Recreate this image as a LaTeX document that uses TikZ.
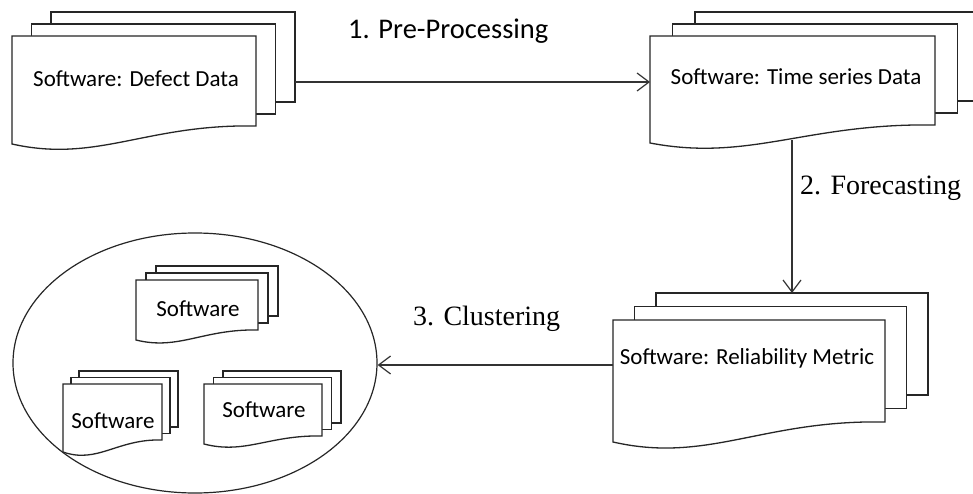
\documentclass[tikz,border=0pt]{standalone}
\usepackage{fontspec}
\setmainfont{Carlito}
\newfontfamily\serifface{Liberation Serif}
\usetikzlibrary{arrows.meta,shapes.geometric}
\tikzset{
  page/.style={draw=black!85, line width=1.3pt, fill=white, line join=miter},
  conn/.style={draw=black!80, line width=1.2pt, -{Straight Barb[length=12pt,width=18pt,line width=1.2pt]}},
  boxtext/.style={font=\fontsize{23}{27}\selectfont, inner sep=0pt, anchor=base},
  steplabel/.style={inner sep=0pt, anchor=base west},
}
% #1 L, #2 T, #3 R, #4 BR, #5 BL, #6 dx, #7 dy
\newcommand{\mdocshape}[7]{%
  \draw[page] ({#1+2*#6},{#2-2*#7}) rectangle ({#3+2*#6},{#4-2*#7});
  \draw[page] ({#1+#6},{#2-#7}) rectangle ({#3+#6},{#4-#7});
  \draw[page] (#1,#2) -- (#3,#2) -- (#3,#4)
     .. controls ({#1+0.55*(#3-#1)},{#4-0.02*(#5-#2)}) and ({#1+0.35*(#3-#1)},{#5+0.178*(#5-#2)}) .. (#1,#5) -- cycle;
}
\begin{document}
\begin{tikzpicture}[x=1pt,y=-1pt]
\useasboundingbox (0,0) rectangle (973,494);
\clip (0,0) rectangle (973,494);
\fill[white] (0,0) rectangle (973,494);

% documents
\mdocshape{12}{36}{256}{126}{144}{19.5}{12}
\node[boxtext] (defect) at (136,87) {Software: Defect Data};

\mdocshape{650}{36}{935}{125}{143}{22.5}{12}
\node[boxtext] (timeseries) at (796,85) {Software: Time series Data};

\mdocshape{613}{320}{885}{422}{442}{21.5}{13.5}
\node[boxtext] (reliability) at (747,364) {Software: Reliability Metric};

% cluster ellipse
\node[draw=black!85, line width=1.2pt, ellipse, minimum width=364pt, minimum height=260pt, inner sep=0pt] (cluster) at (195,363) {};

\mdocshape{136}{280}{258}{330}{340}{10}{7}
\node[boxtext] (swa) at (198,316) {Software};
\mdocshape{63}{384}{162}{440}{452}{8}{6.5}
\node[boxtext] (swb) at (113,428) {Software};
\mdocshape{204}{384}{322}{436}{444}{9.5}{6.5}
\node[boxtext] (swc) at (264,417) {Software};

% anchor coordinates on the shapes
\coordinate (defect-out) at (295,82);
\coordinate (ts-in) at (650,82);
\coordinate (ts-out) at (792,140);
\coordinate (rel-in) at (792,293);
\coordinate (rel-out) at (613,365);

% connectors
\draw[conn] (defect-out) -- (ts-in);
\draw[conn] (ts-out) -- (rel-in);
\draw[conn] (rel-out) -- (rel-out -| cluster.east);

% step labels
\node[steplabel, font=\fontsize{28.5}{33}\selectfont] (l1) at (348,39) {1. Pre-Processing};
\node[steplabel, font=\serifface\fontsize{28}{33}\selectfont] (l2) at (800,195) {2. Forecasting};
\node[steplabel, font=\serifface\fontsize{28}{33}\selectfont] (l3) at (413,325) {3. Clustering};
\end{tikzpicture}
\end{document}
